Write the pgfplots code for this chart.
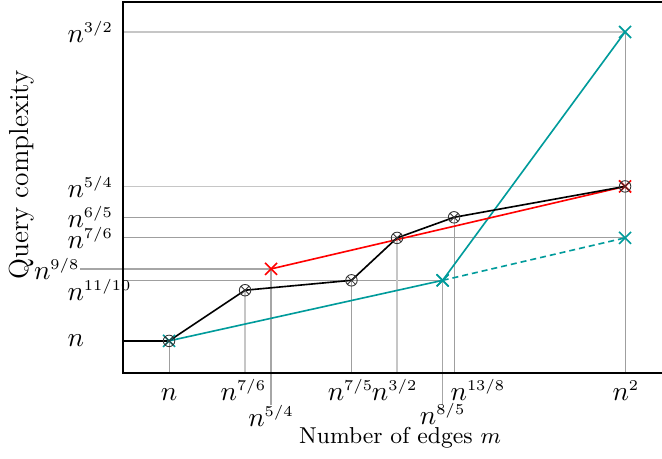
\documentclass[border=0pt]{standalone}
\usepackage{pgfplots}
\pgfplotsset{compat=1.18}
\usetikzlibrary{plotmarks}
\definecolor{tealc}{RGB}{0,155,155}
\newcommand{\np}[1]{n^{\mbox{\fontsize{6.4}{7}\selectfont$#1$}}}
\tikzset{
    light/.style={gray!45, line width=0.6pt},
    dark/.style={gray!75, line width=0.35pt},
    darkthick/.style={gray!70, line width=0.6pt},
    tlab/.style={font=\fontsize{11}{13}\selectfont},
}

\begin{document}
\begin{tikzpicture}
\useasboundingbox (-49.2pt,-34pt) rectangle (215.6pt,149.2pt);
\begin{axis}[
    scale only axis,
    width=215.6pt, height=148.4pt,
    xmin=0.899, xmax=2.081,
    ymin=0.948, ymax=1.5485,
    xtick=\empty, ytick=\empty,
    axis line style={draw=none},
    clip=false,
    ]

    % guide lines
    \addplot[light] coordinates {(0.899,1.5) (2,1.5)};
    \addplot[light] coordinates {(0.899,1.25) (2,1.25)};
    \addplot[dark] coordinates {(0.899,1.2) (1.625,1.2)};
    \addplot[dark] coordinates {(0.899,1.1667) (2,1.1667)};
    \addplot[darkthick] coordinates {(0.805,1.1165) (1.2237,1.1165)};
    \addplot[dark] coordinates {(0.899,1.098) (1.6,1.098)};

    \addplot[dark] coordinates {(1,0.948) (1,1)};
    \addplot[light] coordinates {(1.1667,0.948) (1.1667,1.082)};
    \addplot[darkthick] coordinates {(1.2237,0.896) (1.2237,1.1165)};
    \addplot[dark] coordinates {(1.4,0.948) (1.4,1.098)};
    \addplot[light] coordinates {(1.5,0.948) (1.5,1.1667)};
    \addplot[darkthick] coordinates {(1.6,0.896) (1.6,1.098)};
    \addplot[dark] coordinates {(1.625,0.948) (1.625,1.2)};
    \addplot[dark] coordinates {(2,0.948) (2,1.5)};

    % teal
    \addplot[tealc, line width=0.65pt, mark=x, mark size=3.4pt] coordinates {(1,1) (1.6,1.098) (2,1.5)};
    \addplot[tealc, line width=0.65pt, dash pattern=on 2.4pt off 1.6pt, mark=x, mark size=3.4pt, mark options={solid}] coordinates {(1.6,1.098) (2,1.1667)};
    % red
    \addplot[red, line width=0.65pt, mark=x, mark size=3.4pt] coordinates {(1.2237,1.1165) (2,1.25)};
    % black
    \addplot[black, line width=0.65pt] coordinates {(0.899,1) (1,1)};
    \addplot[black, line width=0.65pt, mark=otimes, mark size=2.3pt, mark options={line width=0.35pt, black!80}] coordinates {(1,1) (1.1667,1.082) (1.4,1.098) (1.5,1.1667) (1.625,1.2) (2,1.25)};

    % frame
    \draw[line width=0.8pt] (rel axis cs:1,1) -- (rel axis cs:0,1) -- (rel axis cs:0,0) -- (rel axis cs:1,0);

    % x labels
    \node[tlab, anchor=base] at (axis cs:1,0.948) [yshift=-10.8pt] {$n$};
    \node[tlab, anchor=base] at (axis cs:1.1630,0.948) [yshift=-10.8pt] {$\np{7/6}$};
    \node[tlab, anchor=base] at (axis cs:1.2237,0.948) [yshift=-21.4pt] {$\np{5/4}$};
    \node[tlab, anchor=base] at (axis cs:1.3980,0.948) [yshift=-10.8pt] {$\np{7/5}$};
    \node[tlab, anchor=base] at (axis cs:1.4950,0.948) [yshift=-10.8pt] {$\np{3/2}$};
    \node[tlab, anchor=base, inner sep=1pt] at (axis cs:1.6,0.948) [yshift=-20.4pt] {$\np{8/5}$};
    \node[tlab, anchor=base] at (axis cs:1.6775,0.948) [yshift=-10.8pt] {$\np{13/8}$};
    \node[tlab, anchor=base] at (axis cs:2.002,0.948) [yshift=-10.8pt] {$\np{2}$};

    % y labels
    \node[tlab, anchor=west, inner sep=0pt] at (axis cs:0.7762,1) {$n$};
    \node[tlab, anchor=west, inner sep=0pt] at (axis cs:0.7762,1.082) {$\np{11/10}$};
    \node[tlab, anchor=east, inner sep=0pt] at (axis cs:0.805,1.1165) {$\np{9/8}$};
    \node[tlab, anchor=west, inner sep=0pt] at (axis cs:0.7762,1.1667) {$\np{7/6}$};
    \node[tlab, anchor=west, inner sep=0pt] at (axis cs:0.7762,1.2) {$\np{6/5}$};
    \node[tlab, anchor=west, inner sep=0pt] at (axis cs:0.7762,1.25) {$\np{5/4}$};
    \node[tlab, anchor=west, inner sep=0pt] at (axis cs:0.7762,1.5) {$\np{3/2}$};

    % axis titles
    \node[anchor=base, inner sep=1pt, font=\fontsize{9.2}{11}\selectfont] at (axis cs:1.5066,0.948) [yshift=-28pt] {Number of edges $m$};
    \node[anchor=base, rotate=90, inner sep=1pt, font=\fontsize{11}{13}\selectfont] at (axis cs:0.692,1.2686) {Query complexity};
\end{axis}
\end{tikzpicture}
\end{document}
